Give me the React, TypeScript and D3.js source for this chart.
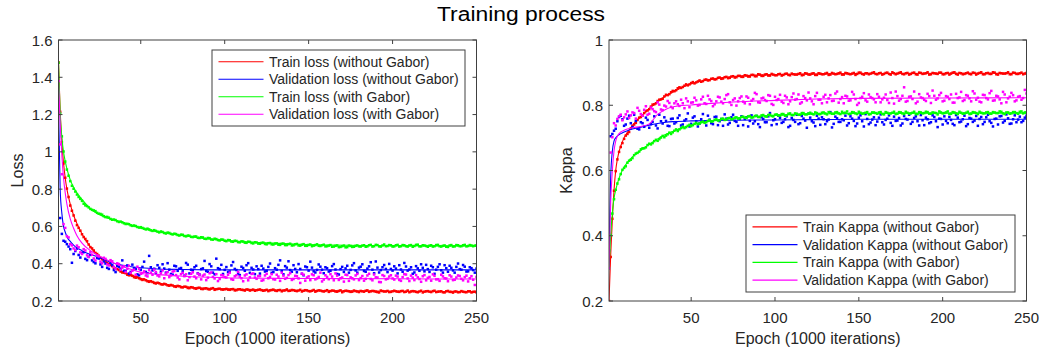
import React from "react";
import * as d3 from "d3";

// Epochs at which the raw metrics were logged (odd and even epochs kept in separate arrays)
const EPOCHS_ODD = d3.range(1, 250, 2);
const EPOCHS_EVEN = d3.range(2, 251, 2);
// Epochs at which the smoothed fit curves are sampled
const FIT_EPOCHS = [1, 2, 3, 4, 5, 6, 8, 10, 12, 15, 20, 25, 30, 35, 40, 50, 60, 75, 100, 125, 150, 200, 250];

const X_TICKS = [50, 100, 150, 200, 250];
const LOSS_TICKS = [0.2, 0.4, 0.6, 0.8, 1, 1.2, 1.4, 1.6];
const KAPPA_TICKS = [0.2, 0.4, 0.6, 0.8, 1];

const LOSS_LABELS = [
  "Train loss (without Gabor)",
  "Validation loss (without Gabor)",
  "Train loss (with Gabor)",
  "Validation loss (with Gabor)",
];
const KAPPA_LABELS = [
  "Train Kappa (without Gabor)",
  "Validation Kappa (without Gabor)",
  "Train Kappa (with Gabor)",
  "Validation Kappa (with Gabor)",
];
const COLORS = ["#ff0000", "#0000ff", "#00ff00", "#ff00ff"];

// ---- Loss, odd epochs ----
const trainLossNoGabor = [
  1.480, 1.052, 0.861, 0.758, 0.684, 0.631, 0.592, 0.558, 0.533, 0.503,
  0.482, 0.458, 0.443, 0.424, 0.412, 0.398, 0.387, 0.372, 0.366, 0.353,
  0.349, 0.338, 0.335, 0.325, 0.322, 0.313, 0.311, 0.303, 0.302, 0.294,
  0.295, 0.288, 0.289, 0.282, 0.283, 0.276, 0.279, 0.273, 0.276, 0.269,
  0.272, 0.266, 0.271, 0.264, 0.268, 0.262, 0.269, 0.263, 0.266, 0.261,
  0.265, 0.260, 0.264, 0.258, 0.263, 0.259, 0.262, 0.256, 0.261, 0.258,
  0.262, 0.255, 0.260, 0.257, 0.261, 0.254, 0.259, 0.256, 0.262, 0.255,
  0.258, 0.253, 0.260, 0.255, 0.257, 0.252, 0.259, 0.254, 0.256, 0.251,
  0.258, 0.253, 0.255, 0.250, 0.257, 0.252, 0.254, 0.249, 0.256, 0.251,
  0.254, 0.250, 0.257, 0.252, 0.253, 0.248, 0.256, 0.251, 0.254, 0.249,
  0.255, 0.250, 0.253, 0.248, 0.256, 0.251, 0.252, 0.247, 0.255, 0.250,
  0.253, 0.248, 0.255, 0.250, 0.252, 0.246, 0.254, 0.249, 0.251, 0.247,
  0.253, 0.248, 0.252, 0.246, 0.250,
];
const valLossNoGabor = [
  1.250, 0.560, 0.518, 0.492, 0.405, 0.468, 0.447, 0.458, 0.426, 0.437,
  0.418, 0.402, 0.428, 0.383, 0.401, 0.372, 0.392, 0.355, 0.384, 0.418,
  0.362, 0.347, 0.395, 0.371, 0.338, 0.383, 0.356, 0.442, 0.364, 0.349,
  0.378, 0.397, 0.352, 0.368, 0.341, 0.386, 0.373, 0.359, 0.404, 0.348,
  0.366, 0.389, 0.342, 0.375, 0.361, 0.398, 0.352, 0.427, 0.371, 0.345,
  0.382, 0.358, 0.409, 0.366, 0.339, 0.377, 0.392, 0.351, 0.369, 0.386,
  0.347, 0.374, 0.362, 0.401, 0.355, 0.368, 0.418, 0.343, 0.379, 0.366,
  0.392, 0.354, 0.372, 0.338, 0.381, 0.411, 0.359, 0.367, 0.384, 0.349,
  0.376, 0.362, 0.398, 0.345, 0.371, 0.356, 0.389, 0.367, 0.403, 0.352,
  0.384, 0.361, 0.374, 0.408, 0.349, 0.379, 0.366, 0.393, 0.355, 0.372,
  0.386, 0.348, 0.369, 0.404, 0.363, 0.381, 0.353, 0.375, 0.397, 0.359,
  0.371, 0.389, 0.346, 0.383, 0.365, 0.392, 0.357, 0.378, 0.352, 0.401,
  0.368, 0.384, 0.359, 0.376, 0.352,
];
const trainLossGabor = [
  1.478, 1.083, 0.948, 0.872, 0.818, 0.787, 0.758, 0.737, 0.713, 0.702,
  0.689, 0.682, 0.668, 0.663, 0.650, 0.647, 0.636, 0.634, 0.624, 0.622,
  0.613, 0.612, 0.603, 0.602, 0.594, 0.592, 0.584, 0.584, 0.576, 0.576,
  0.568, 0.570, 0.562, 0.565, 0.557, 0.559, 0.551, 0.555, 0.547, 0.550,
  0.543, 0.546, 0.538, 0.541, 0.533, 0.537, 0.529, 0.532, 0.525, 0.529,
  0.521, 0.526, 0.518, 0.522, 0.515, 0.519, 0.512, 0.517, 0.509, 0.514,
  0.507, 0.513, 0.504, 0.511, 0.503, 0.509, 0.501, 0.508, 0.500, 0.507,
  0.499, 0.506, 0.497, 0.505, 0.496, 0.503, 0.497, 0.504, 0.495, 0.502,
  0.494, 0.500, 0.492, 0.498, 0.490, 0.497, 0.489, 0.495, 0.491, 0.498,
  0.492, 0.499, 0.493, 0.501, 0.494, 0.500, 0.492, 0.503, 0.495, 0.499,
  0.493, 0.501, 0.494, 0.499, 0.492, 0.500, 0.495, 0.502, 0.493, 0.498,
  0.491, 0.499, 0.494, 0.501, 0.492, 0.498, 0.490, 0.500, 0.493, 0.499,
  0.494, 0.501, 0.495, 0.498, 0.497,
];
const valLossGabor = [
  1.380, 0.880, 0.592, 0.541, 0.498, 0.473, 0.488, 0.452, 0.471, 0.436,
  0.448, 0.417, 0.439, 0.402, 0.426, 0.391, 0.413, 0.372, 0.398, 0.379,
  0.356, 0.389, 0.362, 0.341, 0.372, 0.349, 0.337, 0.366, 0.341, 0.355,
  0.332, 0.364, 0.347, 0.328, 0.358, 0.339, 0.316, 0.351, 0.343, 0.328,
  0.354, 0.322, 0.341, 0.336, 0.312, 0.349, 0.329, 0.344, 0.318, 0.337,
  0.326, 0.352, 0.314, 0.338, 0.331, 0.306, 0.343, 0.327, 0.348, 0.319,
  0.334, 0.312, 0.346, 0.329, 0.317, 0.341, 0.308, 0.336, 0.324, 0.349,
  0.318, 0.333, 0.297, 0.341, 0.326, 0.312, 0.338, 0.321, 0.352, 0.315,
  0.329, 0.344, 0.311, 0.336, 0.322, 0.304, 0.339, 0.327, 0.316, 0.345,
  0.323, 0.309, 0.337, 0.318, 0.342, 0.326, 0.301, 0.334, 0.319, 0.338,
  0.315, 0.331, 0.308, 0.344, 0.321, 0.336, 0.312, 0.327, 0.303, 0.339,
  0.324, 0.309, 0.335, 0.317, 0.341, 0.322, 0.306, 0.331, 0.314, 0.337,
  0.319, 0.328, 0.305, 0.333, 0.286,
];

// ---- Loss, even epochs ----
const trainLossNoGaborEven = [
  1.215, 0.938, 0.803, 0.712, 0.659, 0.607, 0.577, 0.543, 0.521, 0.489,
  0.471, 0.452, 0.431, 0.419, 0.403, 0.393, 0.378, 0.371, 0.358, 0.352,
  0.341, 0.339, 0.328, 0.327, 0.317, 0.316, 0.306, 0.306, 0.297, 0.298,
  0.290, 0.292, 0.284, 0.286, 0.278, 0.281, 0.274, 0.277, 0.270, 0.274,
  0.268, 0.270, 0.265, 0.267, 0.264, 0.266, 0.260, 0.265, 0.262, 0.263,
  0.261, 0.263, 0.257, 0.262, 0.260, 0.256, 0.261, 0.259, 0.255, 0.260,
  0.258, 0.257, 0.253, 0.259, 0.256, 0.258, 0.252, 0.257, 0.254, 0.259,
  0.255, 0.256, 0.251, 0.258, 0.253, 0.255, 0.250, 0.257, 0.253, 0.254,
  0.249, 0.256, 0.251, 0.254, 0.247, 0.255, 0.252, 0.250, 0.253, 0.248,
  0.252, 0.255, 0.249, 0.254, 0.250, 0.246, 0.253, 0.251, 0.248, 0.252,
  0.252, 0.249, 0.254, 0.250, 0.247, 0.253, 0.249, 0.251, 0.246, 0.252,
  0.250, 0.253, 0.248, 0.251, 0.247, 0.252, 0.249, 0.245, 0.251, 0.248,
  0.250, 0.247, 0.252, 0.249, 0.246,
];
const valLossNoGaborEven = [
  0.645, 0.523, 0.505, 0.478, 0.452, 0.481, 0.433, 0.462, 0.419, 0.447,
  0.409, 0.431, 0.396, 0.412, 0.378, 0.403, 0.366, 0.388, 0.373, 0.362,
  0.391, 0.356, 0.376, 0.343, 0.368, 0.411, 0.349, 0.381, 0.373, 0.392,
  0.358, 0.374, 0.403, 0.345, 0.389, 0.362, 0.377, 0.336, 0.395, 0.368,
  0.381, 0.349, 0.371, 0.415, 0.357, 0.386, 0.343, 0.376, 0.394, 0.367,
  0.355, 0.391, 0.372, 0.347, 0.384, 0.362, 0.403, 0.378, 0.344, 0.371,
  0.389, 0.358, 0.383, 0.351, 0.376, 0.394, 0.361, 0.387, 0.413, 0.357,
  0.372, 0.398, 0.346, 0.385, 0.363, 0.379, 0.353, 0.396, 0.368, 0.381,
  0.358, 0.387, 0.369, 0.342, 0.383, 0.375, 0.352, 0.391, 0.364, 0.379,
  0.397, 0.357, 0.386, 0.368, 0.412, 0.353, 0.381, 0.372, 0.399, 0.363,
  0.374, 0.392, 0.357, 0.385, 0.369, 0.346, 0.387, 0.362, 0.378, 0.394,
  0.356, 0.381, 0.368, 0.397, 0.352, 0.376, 0.389, 0.364, 0.383, 0.371,
  0.393, 0.358, 0.381, 0.366, 0.374,
];
const trainLossGaborEven = [
  1.205, 1.002, 0.905, 0.843, 0.802, 0.771, 0.748, 0.722, 0.709, 0.694,
  0.686, 0.673, 0.667, 0.655, 0.651, 0.640, 0.637, 0.628, 0.626, 0.617,
  0.614, 0.606, 0.605, 0.597, 0.596, 0.588, 0.588, 0.579, 0.580, 0.572,
  0.573, 0.565, 0.567, 0.560, 0.561, 0.554, 0.556, 0.549, 0.551, 0.544,
  0.546, 0.539, 0.542, 0.534, 0.538, 0.530, 0.534, 0.527, 0.530, 0.523,
  0.527, 0.519, 0.523, 0.516, 0.520, 0.513, 0.518, 0.511, 0.515, 0.508,
  0.512, 0.506, 0.510, 0.504, 0.508, 0.502, 0.507, 0.500, 0.505, 0.498,
  0.504, 0.498, 0.502, 0.496, 0.501, 0.494, 0.500, 0.496, 0.499, 0.493,
  0.497, 0.491, 0.496, 0.489, 0.494, 0.488, 0.497, 0.490, 0.496, 0.493,
  0.497, 0.491, 0.499, 0.492, 0.501, 0.493, 0.498, 0.494, 0.500, 0.492,
  0.499, 0.492, 0.500, 0.494, 0.498, 0.491, 0.501, 0.493, 0.499, 0.495,
  0.497, 0.492, 0.500, 0.494, 0.496, 0.491, 0.498, 0.492, 0.500, 0.494,
  0.499, 0.493, 0.500, 0.494, 0.498,
];
const valLossGaborEven = [
  1.040, 0.612, 0.548, 0.505, 0.482, 0.497, 0.461, 0.478, 0.445, 0.462,
  0.428, 0.443, 0.411, 0.432, 0.396, 0.419, 0.383, 0.402, 0.368, 0.387,
  0.373, 0.351, 0.368, 0.384, 0.346, 0.359, 0.332, 0.352, 0.368, 0.337,
  0.349, 0.322, 0.355, 0.337, 0.361, 0.326, 0.344, 0.333, 0.311, 0.346,
  0.331, 0.347, 0.316, 0.342, 0.325, 0.353, 0.321, 0.307, 0.339, 0.328,
  0.341, 0.317, 0.333, 0.356, 0.322, 0.337, 0.311, 0.345, 0.326, 0.334,
  0.309, 0.337, 0.322, 0.344, 0.315, 0.331, 0.352, 0.319, 0.339, 0.313,
  0.335, 0.321, 0.347, 0.309, 0.332, 0.343, 0.316, 0.329, 0.305, 0.338,
  0.317, 0.331, 0.348, 0.313, 0.326, 0.341, 0.308, 0.322, 0.337, 0.312,
  0.334, 0.319, 0.346, 0.311, 0.327, 0.302, 0.339, 0.316, 0.331, 0.321,
  0.336, 0.313, 0.328, 0.342, 0.307, 0.325, 0.339, 0.318, 0.333, 0.311,
  0.329, 0.343, 0.316, 0.308, 0.332, 0.321, 0.338, 0.312, 0.326, 0.334,
  0.311, 0.336, 0.322, 0.314, 0.329,
];

const trainLossNoGaborFit = [1.48, 1.22, 1.05, 0.94, 0.86, 0.80, 0.72, 0.66, 0.615, 0.56, 0.49, 0.44, 0.405, 0.377, 0.355, 0.322, 0.297, 0.278, 0.265, 0.259, 0.256, 0.252, 0.25];
const valLossNoGaborFit = [1.25, 0.80, 0.67, 0.60, 0.57, 0.545, 0.52, 0.50, 0.485, 0.47, 0.45, 0.435, 0.415, 0.40, 0.39, 0.378, 0.372, 0.369, 0.367, 0.367, 0.367, 0.367, 0.367];
const trainLossGaborFit = [1.48, 1.2, 1.08, 1.0, 0.95, 0.91, 0.85, 0.81, 0.78, 0.745, 0.695, 0.665, 0.645, 0.632, 0.62, 0.59, 0.572, 0.55, 0.525, 0.512, 0.503, 0.497, 0.495];
const valLossGaborFit = [1.38, 1.15, 0.98, 0.86, 0.78, 0.72, 0.64, 0.59, 0.55, 0.51, 0.47, 0.443, 0.42, 0.40, 0.383, 0.355, 0.343, 0.333, 0.325, 0.322, 0.321, 0.319, 0.318];

// ---- Kappa, odd epochs ----
const trainKappaNoGabor = [
  0.200, 0.452, 0.598, 0.657, 0.684, 0.707, 0.718, 0.737, 0.746, 0.762,
  0.768, 0.782, 0.788, 0.802, 0.806, 0.817, 0.820, 0.832, 0.834, 0.844,
  0.846, 0.855, 0.856, 0.864, 0.864, 0.871, 0.870, 0.876, 0.874, 0.879,
  0.877, 0.882, 0.880, 0.885, 0.882, 0.887, 0.884, 0.889, 0.886, 0.890,
  0.887, 0.891, 0.888, 0.893, 0.889, 0.894, 0.890, 0.895, 0.891, 0.894,
  0.892, 0.896, 0.893, 0.897, 0.892, 0.895, 0.894, 0.898, 0.893, 0.897,
  0.894, 0.898, 0.893, 0.897, 0.895, 0.899, 0.894, 0.897, 0.896, 0.900,
  0.894, 0.898, 0.895, 0.899, 0.896, 0.900, 0.894, 0.898, 0.897, 0.901,
  0.895, 0.899, 0.896, 0.900, 0.894, 0.898, 0.897, 0.901, 0.895, 0.899,
  0.896, 0.900, 0.894, 0.899, 0.897, 0.901, 0.895, 0.898, 0.896, 0.900,
  0.895, 0.899, 0.897, 0.901, 0.894, 0.898, 0.896, 0.900, 0.895, 0.899,
  0.897, 0.901, 0.895, 0.899, 0.896, 0.900, 0.894, 0.898, 0.897, 0.901,
  0.895, 0.899, 0.896, 0.900, 0.897,
];
const valKappaNoGabor = [
  0.355, 0.712, 0.728, 0.764, 0.757, 0.741, 0.768, 0.733, 0.752, 0.726,
  0.745, 0.762, 0.731, 0.749, 0.738, 0.771, 0.744, 0.752, 0.736, 0.759,
  0.748, 0.769, 0.741, 0.757, 0.735, 0.762, 0.751, 0.744, 0.773, 0.738,
  0.756, 0.742, 0.765, 0.751, 0.737, 0.759, 0.746, 0.771, 0.749, 0.758,
  0.739, 0.763, 0.752, 0.744, 0.767, 0.733, 0.758, 0.748, 0.776, 0.754,
  0.742, 0.761, 0.749, 0.766, 0.737, 0.755, 0.771, 0.745, 0.759, 0.731,
  0.762, 0.747, 0.768, 0.740, 0.757, 0.751, 0.779, 0.743, 0.760, 0.749,
  0.754, 0.738, 0.766, 0.752, 0.744, 0.769, 0.735, 0.758, 0.747, 0.763,
  0.750, 0.772, 0.741, 0.759, 0.746, 0.765, 0.753, 0.738, 0.767, 0.756,
  0.743, 0.761, 0.751, 0.770, 0.739, 0.757, 0.748, 0.764, 0.733, 0.758,
  0.766, 0.745, 0.755, 0.739, 0.762, 0.750, 0.768, 0.742, 0.759, 0.753,
  0.737, 0.764, 0.749, 0.771, 0.746, 0.758, 0.741, 0.767, 0.752, 0.760,
  0.744, 0.769, 0.756, 0.748, 0.762,
];
const trainKappaGabor = [
  0.300, 0.468, 0.541, 0.573, 0.602, 0.613, 0.630, 0.638, 0.652, 0.658,
  0.668, 0.671, 0.682, 0.684, 0.694, 0.696, 0.706, 0.707, 0.716, 0.717,
  0.726, 0.726, 0.734, 0.733, 0.740, 0.739, 0.746, 0.744, 0.750, 0.748,
  0.754, 0.751, 0.757, 0.754, 0.759, 0.756, 0.761, 0.758, 0.763, 0.760,
  0.765, 0.761, 0.767, 0.763, 0.768, 0.764, 0.770, 0.765, 0.771, 0.766,
  0.772, 0.768, 0.773, 0.769, 0.775, 0.770, 0.774, 0.771, 0.776, 0.772,
  0.777, 0.772, 0.776, 0.773, 0.778, 0.772, 0.777, 0.774, 0.779, 0.773,
  0.776, 0.781, 0.774, 0.778, 0.773, 0.777, 0.775, 0.779, 0.773, 0.778,
  0.774, 0.779, 0.772, 0.777, 0.775, 0.780, 0.774, 0.778, 0.773, 0.777,
  0.775, 0.780, 0.773, 0.778, 0.776, 0.779, 0.774, 0.777, 0.772, 0.778,
  0.776, 0.781, 0.774, 0.778, 0.773, 0.777, 0.775, 0.780, 0.774, 0.778,
  0.773, 0.777, 0.775, 0.779, 0.774, 0.778, 0.776, 0.780, 0.773, 0.778,
  0.775, 0.779, 0.774, 0.781, 0.778,
];
const valKappaGabor = [
  0.300, 0.702, 0.738, 0.766, 0.754, 0.772, 0.761, 0.778, 0.759, 0.783,
  0.768, 0.797, 0.774, 0.788, 0.779, 0.802, 0.785, 0.796, 0.807, 0.791,
  0.812, 0.798, 0.806, 0.821, 0.794, 0.809, 0.815, 0.801, 0.826, 0.804,
  0.818, 0.797, 0.812, 0.824, 0.806, 0.831, 0.809, 0.816, 0.799, 0.822,
  0.811, 0.827, 0.803, 0.819, 0.834, 0.808, 0.823, 0.813, 0.829, 0.801,
  0.816, 0.832, 0.807, 0.824, 0.812, 0.836, 0.819, 0.805, 0.828, 0.815,
  0.821, 0.803, 0.838, 0.817, 0.826, 0.809, 0.831, 0.814, 0.842, 0.819,
  0.806, 0.827, 0.815, 0.833, 0.801, 0.822, 0.837, 0.811, 0.825, 0.818,
  0.834, 0.809, 0.823, 0.816, 0.839, 0.805, 0.828, 0.819, 0.855, 0.813,
  0.827, 0.842, 0.811, 0.824, 0.817, 0.835, 0.807, 0.829, 0.821, 0.838,
  0.814, 0.826, 0.833, 0.808, 0.822, 0.841, 0.816, 0.829, 0.812, 0.836,
  0.823, 0.809, 0.831, 0.818, 0.844, 0.815, 0.827, 0.806, 0.833, 0.821,
  0.838, 0.812, 0.826, 0.817, 0.847,
];

// ---- Kappa, even epochs ----
const trainKappaNoGaborEven = [
  0.335, 0.538, 0.634, 0.672, 0.697, 0.712, 0.729, 0.741, 0.755, 0.764,
  0.776, 0.784, 0.796, 0.803, 0.813, 0.818, 0.827, 0.831, 0.840, 0.843,
  0.852, 0.853, 0.860, 0.861, 0.868, 0.867, 0.873, 0.872, 0.878, 0.876,
  0.881, 0.879, 0.884, 0.881, 0.886, 0.883, 0.888, 0.885, 0.890, 0.887,
  0.892, 0.888, 0.893, 0.889, 0.895, 0.890, 0.894, 0.891, 0.896, 0.892,
  0.895, 0.891, 0.896, 0.893, 0.897, 0.894, 0.896, 0.892, 0.898, 0.894,
  0.897, 0.893, 0.898, 0.895, 0.897, 0.893, 0.899, 0.895, 0.898, 0.894,
  0.899, 0.896, 0.897, 0.893, 0.900, 0.896, 0.898, 0.895, 0.899, 0.896,
  0.898, 0.894, 0.899, 0.896, 0.901, 0.895, 0.899, 0.896, 0.898, 0.894,
  0.899, 0.895, 0.900, 0.896, 0.898, 0.894, 0.899, 0.897, 0.900, 0.895,
  0.898, 0.894, 0.900, 0.896, 0.899, 0.895, 0.898, 0.896, 0.900, 0.894,
  0.899, 0.895, 0.898, 0.896, 0.901, 0.895, 0.899, 0.897, 0.898, 0.895,
  0.900, 0.896, 0.898, 0.895, 0.899,
];
const valKappaNoGaborEven = [
  0.705, 0.722, 0.751, 0.768, 0.737, 0.759, 0.745, 0.771, 0.728, 0.748,
  0.734, 0.755, 0.742, 0.766, 0.729, 0.751, 0.763, 0.737, 0.758, 0.744,
  0.761, 0.738, 0.753, 0.775, 0.743, 0.766, 0.735, 0.757, 0.749, 0.768,
  0.745, 0.764, 0.739, 0.758, 0.772, 0.741, 0.763, 0.752, 0.737, 0.766,
  0.758, 0.735, 0.769, 0.751, 0.742, 0.763, 0.748, 0.766, 0.739, 0.757,
  0.768, 0.746, 0.757, 0.733, 0.761, 0.749, 0.742, 0.767, 0.753, 0.774,
  0.751, 0.736, 0.759, 0.763, 0.742, 0.756, 0.732, 0.765, 0.749, 0.757,
  0.768, 0.745, 0.759, 0.736, 0.762, 0.751, 0.773, 0.742, 0.756, 0.739,
  0.762, 0.748, 0.755, 0.769, 0.737, 0.752, 0.761, 0.744, 0.758, 0.771,
  0.749, 0.766, 0.738, 0.754, 0.762, 0.745, 0.769, 0.751, 0.759, 0.741,
  0.752, 0.764, 0.743, 0.770, 0.748, 0.757, 0.736, 0.761, 0.749, 0.767,
  0.758, 0.742, 0.763, 0.751, 0.735, 0.759, 0.766, 0.747, 0.772, 0.743,
  0.757, 0.748, 0.765, 0.752, 0.768,
];
const trainKappaGaborEven = [
  0.402, 0.512, 0.560, 0.589, 0.608, 0.624, 0.633, 0.647, 0.654, 0.665,
  0.668, 0.678, 0.680, 0.690, 0.691, 0.701, 0.702, 0.711, 0.712, 0.722,
  0.721, 0.730, 0.730, 0.737, 0.736, 0.743, 0.742, 0.748, 0.746, 0.752,
  0.750, 0.755, 0.753, 0.758, 0.755, 0.760, 0.757, 0.762, 0.759, 0.764,
  0.762, 0.766, 0.762, 0.767, 0.764, 0.769, 0.766, 0.770, 0.767, 0.771,
  0.769, 0.773, 0.768, 0.774, 0.770, 0.775, 0.771, 0.776, 0.772, 0.775,
  0.774, 0.778, 0.773, 0.777, 0.775, 0.779, 0.774, 0.778, 0.775, 0.780,
  0.777, 0.773, 0.779, 0.775, 0.780, 0.774, 0.777, 0.772, 0.778, 0.776,
  0.778, 0.773, 0.779, 0.774, 0.777, 0.773, 0.779, 0.775, 0.780, 0.774,
  0.777, 0.773, 0.779, 0.775, 0.780, 0.774, 0.778, 0.776, 0.781, 0.775,
  0.778, 0.773, 0.779, 0.775, 0.780, 0.774, 0.777, 0.773, 0.779, 0.776,
  0.780, 0.775, 0.778, 0.774, 0.779, 0.776, 0.781, 0.775, 0.778, 0.774,
  0.779, 0.776, 0.780, 0.775, 0.778,
];
const valKappaGaborEven = [
  0.655, 0.745, 0.758, 0.771, 0.763, 0.781, 0.769, 0.776, 0.792, 0.773,
  0.786, 0.771, 0.793, 0.782, 0.809, 0.787, 0.799, 0.813, 0.795, 0.806,
  0.803, 0.817, 0.791, 0.812, 0.808, 0.823, 0.799, 0.818, 0.806, 0.829,
  0.813, 0.803, 0.826, 0.811, 0.819, 0.834, 0.801, 0.821, 0.812, 0.827,
  0.806, 0.823, 0.814, 0.838, 0.809, 0.821, 0.816, 0.831, 0.804, 0.826,
  0.819, 0.811, 0.829, 0.803, 0.825, 0.817, 0.833, 0.809, 0.822, 0.839,
  0.812, 0.828, 0.817, 0.806, 0.832, 0.821, 0.813, 0.836, 0.808, 0.825,
  0.829, 0.814, 0.841, 0.819, 0.807, 0.826, 0.815, 0.833, 0.822, 0.809,
  0.826, 0.818, 0.833, 0.807, 0.822, 0.842, 0.814, 0.829, 0.811, 0.826,
  0.819, 0.806, 0.834, 0.822, 0.813, 0.828, 0.845, 0.817, 0.831, 0.812,
  0.828, 0.819, 0.808, 0.835, 0.824, 0.813, 0.831, 0.821, 0.843, 0.817,
  0.811, 0.832, 0.822, 0.837, 0.814, 0.829, 0.818, 0.841, 0.809, 0.826,
  0.831, 0.815, 0.828, 0.822, 0.836,
];

const trainKappaNoGaborFit = [0.20, 0.34, 0.45, 0.54, 0.60, 0.635, 0.675, 0.70, 0.717, 0.738, 0.765, 0.79, 0.81, 0.829, 0.843, 0.866, 0.878, 0.888, 0.894, 0.896, 0.897, 0.898, 0.898];
const valKappaNoGaborFit = [0.35, 0.58, 0.66, 0.69, 0.70, 0.706, 0.713, 0.718, 0.722, 0.727, 0.733, 0.739, 0.744, 0.748, 0.75, 0.752, 0.753, 0.754, 0.755, 0.756, 0.757, 0.757, 0.757];
const trainKappaGaborFit = [0.30, 0.40, 0.47, 0.515, 0.54, 0.56, 0.59, 0.61, 0.625, 0.642, 0.662, 0.68, 0.697, 0.711, 0.722, 0.739, 0.75, 0.76, 0.769, 0.773, 0.775, 0.776, 0.776];
const valKappaGaborFit = [0.30, 0.50, 0.60, 0.66, 0.69, 0.705, 0.718, 0.723, 0.727, 0.731, 0.735, 0.743, 0.772, 0.788, 0.796, 0.801, 0.805, 0.81, 0.815, 0.819, 0.821, 0.822, 0.823];

const FONT = "'Liberation Sans', Arial, Helvetica, sans-serif";
const INK = "#262626";
const AXIS = "#404040";

type Series = { odd: number[]; even: number[]; fit: number[]; color: string; label: string };

type PanelProps = {
  id: string;
  left: number;
  right: number;
  top: number;
  bottom: number;
  yDomain: [number, number];
  yTicks: number[];
  yLabel: string;
  yLabelX: number;
  series: Series[];
  legend: { x: number; y: number; w: number; h: number };
};

function Panel(p: PanelProps) {
  const x = d3.scaleLinear().domain([1, 250]).range([p.left, p.right]);
  const y = d3.scaleLinear().domain(p.yDomain).range([p.bottom, p.top]);
  const line = d3
    .line<number>()
    .x((_, i) => x(FIT_EPOCHS[i]))
    .y((d) => y(d))
    .curve(d3.curveMonotoneX);
  const tickLen = 4;
  const cy = (p.top + p.bottom) / 2;
  const cx = (p.left + p.right) / 2;
  const rowH = (p.legend.h - 6) / p.series.length;
  const m = 2.5; // marker size

  const points = (s: Series) => [
    ...s.odd.map((v, i) => [EPOCHS_ODD[i], v] as [number, number]),
    ...s.even.map((v, i) => [EPOCHS_EVEN[i], v] as [number, number]),
  ];

  return (
    <g>
      <defs>
        <clipPath id={p.id}>
          <rect x={p.left} y={p.top - 2} width={p.right - p.left} height={p.bottom - p.top + 2} />
        </clipPath>
      </defs>
      <rect x={p.left} y={p.top} width={p.right - p.left} height={p.bottom - p.top} fill="#fff" />

      <g clipPath={`url(#${p.id})`}>
        {p.series.map((s, si) => (
          <g key={si}>
            {points(s).map(([e, v], i) => (
              <rect key={i} x={x(e) - m / 2} y={y(v) - m / 2} width={m} height={m} fill={s.color} />
            ))}
            <path d={line(s.fit) ?? ""} fill="none" stroke={s.color} strokeWidth={1.1} />
          </g>
        ))}
      </g>

      {/* box */}
      <rect
        x={p.left}
        y={p.top}
        width={p.right - p.left}
        height={p.bottom - p.top}
        fill="none"
        stroke={AXIS}
        strokeWidth={1}
      />

      {/* x ticks */}
      {X_TICKS.map((t) => (
        <g key={t}>
          <line x1={x(t)} x2={x(t)} y1={p.bottom} y2={p.bottom - tickLen} stroke={AXIS} />
          <line x1={x(t)} x2={x(t)} y1={p.top} y2={p.top + tickLen} stroke={AXIS} />
          <text x={x(t)} y={p.bottom + 22} textAnchor="middle" fontSize={15} fill={INK} fontFamily={FONT}>
            {t}
          </text>
        </g>
      ))}

      {/* y ticks */}
      {p.yTicks.map((t) => (
        <g key={t}>
          <line x1={p.left} x2={p.left + tickLen} y1={y(t)} y2={y(t)} stroke={AXIS} />
          <line x1={p.right} x2={p.right - tickLen} y1={y(t)} y2={y(t)} stroke={AXIS} />
          <text x={p.left - 6} y={y(t) + 5.5} textAnchor="end" fontSize={15} fill={INK} fontFamily={FONT}>
            {d3.format("~g")(t)}
          </text>
        </g>
      ))}

      <text x={cx} y={p.bottom + 43} textAnchor="middle" fontSize={16} fill={INK} fontFamily={FONT}>
        Epoch (1000 iterations)
      </text>
      <text
        transform={`translate(${p.yLabelX},${cy}) rotate(-90)`}
        textAnchor="middle"
        fontSize={16}
        fill={INK}
        fontFamily={FONT}
      >
        {p.yLabel}
      </text>

      {/* legend */}
      <g>
        <rect
          x={p.legend.x}
          y={p.legend.y}
          width={p.legend.w}
          height={p.legend.h}
          fill="#fff"
          stroke={AXIS}
          strokeWidth={1}
        />
        {p.series.map((s, i) => {
          const ly = p.legend.y + 3 + rowH * (i + 0.5);
          return (
            <g key={i}>
              <line
                x1={p.legend.x + 6.5}
                x2={p.legend.x + 51.5}
                y1={ly}
                y2={ly}
                stroke={s.color}
                strokeWidth={1.2}
              />
              <text x={p.legend.x + 57} y={ly + 5} fontSize={14} fill={INK} fontFamily={FONT}>
                {s.label}
              </text>
            </g>
          );
        })}
      </g>
    </g>
  );
}

export default function App() {
  const lossSeries: Series[] = [
    { odd: trainLossNoGabor, even: trainLossNoGaborEven, fit: trainLossNoGaborFit, color: COLORS[0], label: LOSS_LABELS[0] },
    { odd: valLossNoGabor, even: valLossNoGaborEven, fit: valLossNoGaborFit, color: COLORS[1], label: LOSS_LABELS[1] },
    { odd: trainLossGabor, even: trainLossGaborEven, fit: trainLossGaborFit, color: COLORS[2], label: LOSS_LABELS[2] },
    { odd: valLossGabor, even: valLossGaborEven, fit: valLossGaborFit, color: COLORS[3], label: LOSS_LABELS[3] },
  ];
  const kappaSeries: Series[] = [
    { odd: trainKappaNoGabor, even: trainKappaNoGaborEven, fit: trainKappaNoGaborFit, color: COLORS[0], label: KAPPA_LABELS[0] },
    { odd: valKappaNoGabor, even: valKappaNoGaborEven, fit: valKappaNoGaborFit, color: COLORS[1], label: KAPPA_LABELS[1] },
    { odd: trainKappaGabor, even: trainKappaGaborEven, fit: trainKappaGaborFit, color: COLORS[2], label: KAPPA_LABELS[2] },
    { odd: valKappaGabor, even: valKappaGaborEven, fit: valKappaGaborFit, color: COLORS[3], label: KAPPA_LABELS[3] },
  ];

  return (
    <svg
      width={1042}
      height={352}
      viewBox="0 0 1042 352"
      style={{ position: "absolute", left: 0, top: 0, background: "#fff" }}
    >
      <rect width={1042} height={352} fill="#fff" />
      <text
        x={521}
        y={21}
        textAnchor="middle"
        fontSize={20}
        textLength={168}
        lengthAdjust="spacingAndGlyphs"
        fill="#000"
        fontFamily={FONT}
      >
        Training process
      </text>
      <Panel
        id="clip-loss"
        left={58.5}
        right={476.5}
        top={40}
        bottom={301}
        yDomain={[0.2, 1.6]}
        yTicks={LOSS_TICKS}
        yLabel="Loss"
        yLabelX={23}
        series={lossSeries}
        legend={{ x: 212, y: 50, w: 253, h: 76 }}
      />
      <Panel
        id="clip-kappa"
        left={609}
        right={1026.5}
        top={40}
        bottom={301}
        yDomain={[0.2, 1]}
        yTicks={KAPPA_TICKS}
        yLabel="Kappa"
        yLabelX={572}
        series={kappaSeries}
        legend={{ x: 746, y: 215, w: 269, h: 77 }}
      />
    </svg>
  );
}
